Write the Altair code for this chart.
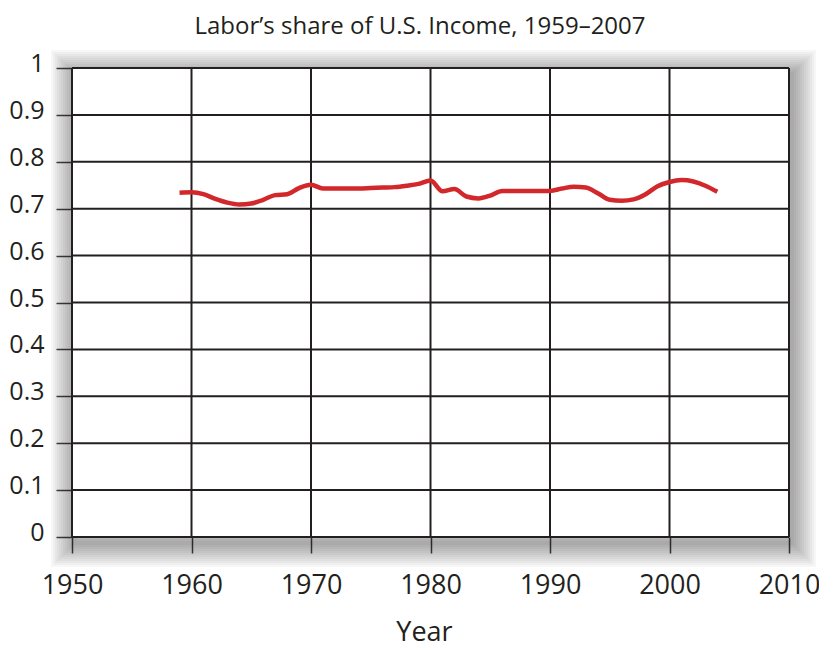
import altair as alt
import pandas as pd

YEARS = list(range(1959, 2005))
SHARE = [0.734, 0.735, 0.731, 0.721, 0.713, 0.709, 0.711, 0.719, 0.729, 0.731,
         0.744, 0.751, 0.743, 0.743, 0.743, 0.743, 0.744, 0.745, 0.746, 0.749,
         0.753, 0.760, 0.737, 0.742, 0.726, 0.722, 0.728, 0.738, 0.738, 0.738,
         0.738, 0.738, 0.743, 0.747, 0.745, 0.733, 0.719, 0.717, 0.720, 0.731,
         0.748, 0.757, 0.761, 0.758, 0.749, 0.736]
X_TICKS = [1950, 1960, 1970, 1980, 1990, 2000, 2010]
Y_TICKS = [0, 0.1, 0.2, 0.3, 0.4, 0.5, 0.6, 0.7, 0.8, 0.9, 1]
TITLE = "Labor\u2019s share of U.S. Income, 1959\u20132007"

W, H = 717, 469
FONT = "Open Sans"
INK = "#231f20"

df = pd.DataFrame({"year": YEARS, "share": SHARE})

xs = alt.Scale(domain=[1950, 2010], nice=False, zero=False)
ys = alt.Scale(domain=[0, 1], nice=False, zero=False)

x_axis = alt.Axis(values=X_TICKS, format="d", grid=False, domain=False,
                  tickSize=16, tickWidth=1.5, tickColor="#444444",
                  labelFont=FONT, labelFontSize=27, labelColor=INK,
                  labelBaseline="alphabetic", labelPadding=40,
                  labelFlush=False, labelOverlap=False,
                  title="Year", titleFont=FONT, titleFontSize=27,
                  titleFontWeight="normal", titleColor=INK,
                  titleBaseline="alphabetic", titleX=352, titleY=103)
y_axis = alt.Axis(values=Y_TICKS, format="~g", grid=False, domain=False,
                  tickSize=16, tickWidth=1.5, tickColor="#444444",
                  labelFont=FONT, labelFontSize=25, labelColor=INK,
                  labelBaseline="alphabetic", labelOffset=3.5, labelPadding=12,
                  labelFlush=False, labelOverlap=False,
                  title=None)

one = alt.Data(values=[{"k": 1}])

layers = []
# soft drop shadow around the plot frame
for d in range(2, 26, 2):
    layers.append(
        alt.Chart(one).mark_rect(fill=None, stroke="black", strokeWidth=2 * d,
                                 strokeOpacity=0.032).encode(
            x=alt.value(3), x2=alt.value(W + 3),
            y=alt.value(6), y2=alt.value(H + 6))
    )
# white plot background
layers.append(
    alt.Chart(one).mark_rect(fill="white").encode(
        x=alt.value(0), x2=alt.value(W), y=alt.value(0), y2=alt.value(H))
)
# chart title as text
layers.append(
    alt.Chart(one).mark_text(text=TITLE, font=FONT, fontSize=24, color=INK,
                             align="center", baseline="alphabetic").encode(
        x=alt.value(348), y=alt.value(-34))
)

vgrid = alt.Chart(pd.DataFrame({"xt": X_TICKS})).mark_rule(
    color=INK, strokeWidth=2).encode(
    x=alt.X("xt:Q", scale=xs, axis=x_axis),
    y=alt.value(0), y2=alt.value(H))
hgrid = alt.Chart(pd.DataFrame({"yt": Y_TICKS})).mark_rule(
    color=INK, strokeWidth=2).encode(
    y=alt.Y("yt:Q", scale=ys, axis=y_axis),
    x=alt.value(0), x2=alt.value(W))
line = alt.Chart(df).mark_line(color="#d2282b", strokeWidth=4.5,
                               interpolate="monotone").encode(
    x=alt.X("year:Q", scale=xs, axis=x_axis),
    y=alt.Y("share:Q", scale=ys, axis=y_axis))

layers += [vgrid, hgrid, line]

chart = alt.layer(*layers).properties(
    width=W, height=H,
    autosize=alt.AutoSizeParams(type="none"),
    padding={"left": 64, "top": 60, "right": 30, "bottom": 110},
).configure_view(stroke=None)

chart.save("out.html", embed_options={"renderer": "svg", "actions": False})
